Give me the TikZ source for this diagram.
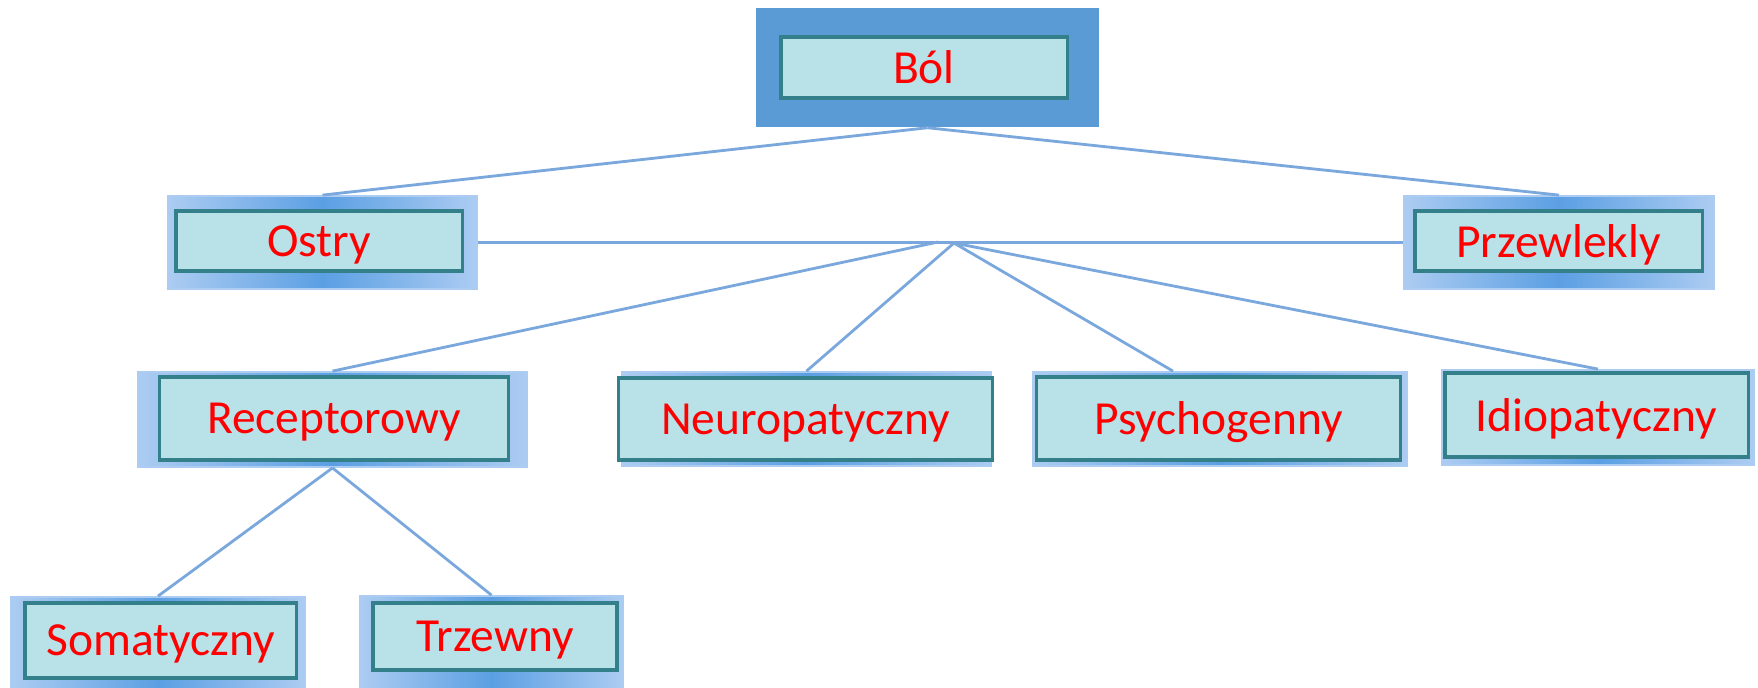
\documentclass[tikz,border=0pt]{standalone}
\usepackage{fontspec}
\setmainfont{Carlito}
\usetikzlibrary{positioning}
\definecolor{framemid}{RGB}{91,159,227}
\definecolor{frameedge}{RGB}{172,204,242}
\definecolor{rootblue}{RGB}{91,155,213}
\definecolor{boxfill}{RGB}{184,225,232}
\definecolor{boxline}{RGB}{52,128,138}
\definecolor{linkblue}{RGB}{122,168,221}

\begin{document}
\begin{tikzpicture}[
  x=0.01cm, y=-0.01cm,
  frame/.style 2 args={draw=frameedge, line width=0.5pt, left color=frameedge, right color=frameedge, middle color=framemid, inner sep=0pt, minimum width=#1cm, minimum height=#2cm},
  rootframe/.style 2 args={fill=rootblue, inner sep=0pt, minimum width=#1cm, minimum height=#2cm},
  box/.style 2 args={draw=boxline, line width=0.9pt, fill=boxfill, inner sep=0pt, text depth=0pt, minimum width=#1cm, minimum height=#2cm, text=red, font=\fontsize{13.5}{16}\selectfont},
  link/.style={draw=linkblue, line width=0.8pt},
]
  \useasboundingbox (0,0) rectangle (1758,687);

  % outer frames
  \node[rootframe={3.43}{1.19}] (bolF) at (927.5,67.5) {};
  \node[frame={3.09}{0.93}] (ostF) at (322.5,242.5) {};
  \node[frame={3.10}{0.93}] (przF) at (1559,242.5) {};
  \node[frame={3.89}{0.95}] (recF) at (332.5,419.5) {};
  \node[frame={3.69}{0.94}] (neuF) at (806.5,419) {};
  \node[frame={3.74}{0.94}] (psyF) at (1220,419) {};
  \node[frame={3.12}{0.95}] (idiF) at (1598,417.5) {};
  \node[frame={2.94}{0.93}] (somF) at (158,643.5) {};
  \node[frame={2.63}{0.93}] (trzF) at (491.5,642.5) {};

  % inner boxes
  \node[box={2.86}{0.61}] (bol) at (924,67.5) {Ból};
  \node[box={2.86}{0.60}] (ost) at (319,241) {Ostry};
  \node[box={2.87}{0.60}] (prz) at (1558.5,241) {Przewlekly};
  \node[box={3.48}{0.83}] (rec) at (334,418.5) {Receptorowy};
  \node[box={3.73}{0.82}] (neu) at (805.5,419) {Neuropatyczny};
  \node[box={3.63}{0.83}] (psy) at (1218.5,418.5) {Psychogenny};
  \node[box={3.03}{0.84}] (idi) at (1596.5,415) {Idiopatyczny};
  \node[box={2.71}{0.75}] (som) at (160.5,640.5) {Somatyczny};
  \node[box={2.44}{0.67}] (trz) at (495,636.5) {Trzewny};

  \coordinate (hub) at (954,243);
  \coordinate (hubL) at (938,242);

  \draw[link] (bolF.south) -- (ostF.north);
  \draw[link] (bolF.south) -- (przF.north);
  \draw[link] (ostF.east) -- (przF.west);
  \draw[link] (hubL) -- (recF.north);
  \draw[link] (hub) -- (neuF.north);
  \draw[link] (hub) -- ([xshift=-0.47cm]psyF.north);
  \draw[link] (hub) -- (idiF.north);
  \draw[link] (recF.south) -- (somF.north);
  \draw[link] (recF.south) -- (trzF.north);
\end{tikzpicture}
\end{document}
